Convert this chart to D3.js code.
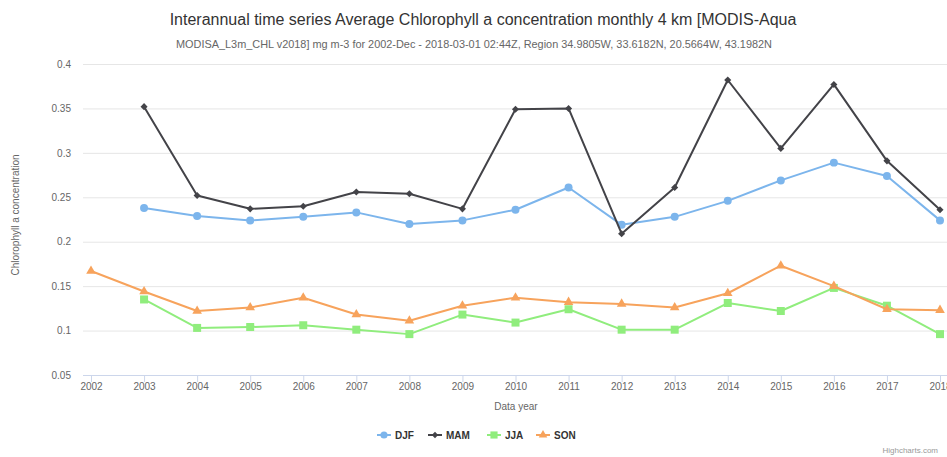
<!DOCTYPE html>
<html>
<head>
<meta charset="utf-8">
<script src="https://cdn.jsdelivr.net/npm/d3@7"></script>
<style>
  body { margin: 0; background: #fff; }
  svg text { font-family: "Liberation Sans", Arial, sans-serif; }
</style>
</head>
<body>
<svg id="chart" width="947" height="457"></svg>
<script>
// datos
var years = [2002, 2003, 2004, 2005, 2006, 2007, 2008, 2009, 2010, 2011, 2012, 2013, 2014, 2015, 2016, 2017, 2018];
var yTicks = [0.05, 0.1, 0.15, 0.2, 0.25, 0.3, 0.35, 0.4];

// null = sin dato
var djf = [null, 0.238, 0.229, 0.224, 0.228, 0.233, 0.220, 0.224, 0.236, 0.261, 0.219, 0.228, 0.246, 0.269, 0.289, 0.274, 0.224];
var mam = [null, 0.352, 0.252, 0.237, 0.240, 0.256, 0.254, 0.237, 0.349, 0.350, 0.209, 0.261, 0.382, 0.305, 0.377, 0.291, 0.236];
var jja = [null, 0.135, 0.103, 0.104, 0.106, 0.101, 0.096, 0.118, 0.109, 0.124, 0.101, 0.101, 0.131, 0.122, 0.148, 0.128, 0.096];
var son = [0.167, 0.144, 0.122, 0.126, 0.137, 0.118, 0.111, 0.128, 0.137, 0.132, 0.130, 0.126, 0.142, 0.173, 0.150, 0.124, 0.123];

var series = [
  { name: 'DJF', values: djf, color: '#7cb5ec', symbol: d3.symbolCircle, size: 50 },
  { name: 'MAM', values: mam, color: '#434348', symbol: d3.symbolDiamond2, size: 32 },
  { name: 'JJA', values: jja, color: '#90ed7d', symbol: d3.symbolSquare, size: 64 },
  { name: 'SON', values: son, color: '#f7a35c', symbol: d3.symbolTriangle, size: 40 }
];

var svg = d3.select('#chart');
var plotLeft = 83, plotRight = 947, plotTop = 64, plotBottom = 375;

var x = d3.scaleLinear().domain([2002, 2018]).range([91, 940]);
var y = d3.scaleLinear().domain([0.05, 0.4]).range([plotBottom, plotTop]);

// titulos
svg.append('text')
  .attr('x', 483).attr('y', 25)
  .attr('text-anchor', 'middle')
  .style('font-size', '16px').style('fill', '#333')
  .text('Interannual time series Average Chlorophyll a concentration monthly 4 km [MODIS-Aqua');

svg.append('text')
  .attr('x', 474).attr('y', 48)
  .attr('text-anchor', 'middle')
  .style('font-size', '10.9px').style('fill', '#666')
  .text('MODISA_L3m_CHL v2018] mg m-3 for 2002-Dec - 2018-03-01 02:44Z, Region 34.9805W, 33.6182N, 20.5664W, 43.1982N');

// lineas de la grilla
var yAxis = d3.axisLeft(y).tickValues(yTicks).tickSize(-(plotRight - plotLeft)).tickFormat(d3.format('~g'));
var gy = svg.append('g').attr('transform', 'translate(' + plotLeft + ',0)').call(yAxis);
gy.select('.domain').remove();
gy.selectAll('.tick line').attr('stroke', '#e6e6e6');
gy.selectAll('.tick text').attr('x', -12).attr('dy', '0.32em').style('font-size', '10px').style('fill', '#666');

// eje x
var xAxis = d3.axisBottom(x).tickValues(years).tickSize(7).tickFormat(d3.format('d'));
var gx = svg.append('g').attr('transform', 'translate(0,' + plotBottom + ')').call(xAxis);
gx.select('.domain').attr('d', 'M' + plotLeft + ',0.5H' + plotRight).attr('stroke', '#ccd6eb');
gx.selectAll('.tick line').attr('stroke', '#ccd6eb');
gx.selectAll('.tick text').attr('y', 8).style('font-size', '10px').style('fill', '#666');

svg.append('text')
  .attr('x', 516).attr('y', 410)
  .attr('text-anchor', 'middle')
  .style('font-size', '10px').style('fill', '#666')
  .text('Data year');

svg.append('text')
  .attr('transform', 'translate(19,' + 215 + ') rotate(-90)')
  .attr('text-anchor', 'middle')
  .style('font-size', '10px').style('fill', '#666')
  .text('Chlorophyll a concentration');

// lineas y marcadores
var line = d3.line()
  .defined(function(d) { return d != null; })
  .x(function(d, i) { return x(years[i]); })
  .y(function(d) { return y(d); });

series.forEach(function(s) {
  svg.append('path')
    .attr('d', line(s.values))
    .attr('fill', 'none')
    .attr('stroke', s.color)
    .attr('stroke-width', 2)
    .attr('stroke-linejoin', 'round');

  var sym = d3.symbol().type(s.symbol).size(s.size);
  s.values.forEach(function(v, i) {
    if (v == null) return;
    svg.append('path')
      .attr('d', sym())
      .attr('transform', 'translate(' + x(years[i]) + ',' + y(v) + ')')
      .attr('fill', s.color);
  });
});

// leyenda
var legendX = [377, 428, 487, 536];
series.forEach(function(s, i) {
  var g = svg.append('g').attr('transform', 'translate(' + legendX[i] + ',435)');
  g.append('line').attr('x1', 0).attr('x2', 14).attr('stroke', s.color).attr('stroke-width', 2);
  g.append('path').attr('d', d3.symbol().type(s.symbol).size(s.size * 0.8)()).attr('transform', 'translate(7,0)').attr('fill', s.color);
  g.append('text').attr('x', 18).attr('dy', '0.35em')
    .style('font-size', '10px').style('font-weight', 'bold').style('fill', '#333')
    .text(s.name);
});

// creditos
svg.append('text')
  .attr('x', 938).attr('y', 453)
  .attr('text-anchor', 'end')
  .style('font-size', '8px').style('fill', '#999')
  .text('Highcharts.com');
</script>
</body>
</html>
